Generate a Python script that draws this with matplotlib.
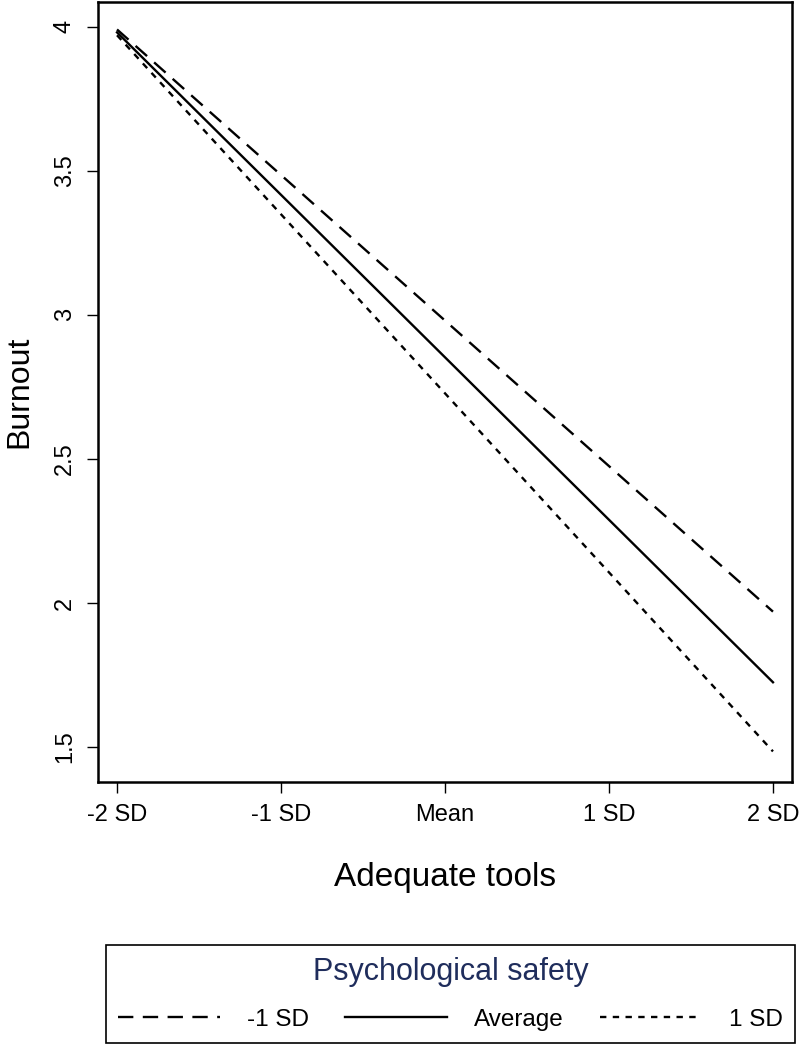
import numpy as np
import matplotlib.pyplot as plt
from matplotlib.lines import Line2D

plt.rcParams['font.family'] = ['Liberation Sans', 'DejaVu Sans']

# x positions (in SD units of Adequate tools) and tick labels
x_pos = [-2, -1, 0, 1, 2]
x_labels = ['-2 SD', '-1 SD', 'Mean', '1 SD', '2 SD']

# predicted burnout at the two ends, per level of Psychological safety
x_ends = [-2, 2]
low_ps = [3.99, 1.97]      # -1 SD
avg_ps = [3.98, 1.725]     # Average
high_ps = [3.97, 1.485]    # 1 SD

series_names = ['-1 SD', 'Average', '1 SD']


def main():
    fig = plt.figure(figsize=(8, 10.45), dpi=100)
    ax = fig.add_axes([0.1225, 0.2517, 0.8675, 0.7463])

    lw = 1.7
    ax.plot(x_ends, low_ps, color='black', lw=lw, linestyle=(0, (6.5, 4)))
    ax.plot(x_ends, avg_ps, color='black', lw=lw, linestyle='-')
    ax.plot(x_ends, high_ps, color='black', lw=lw, linestyle=(0, (2.7, 2.7)))

    ax.set_xlim(-2.116, 2.116)
    ax.set_ylim(1.379, 4.085)
    ax.set_xticks(x_pos)
    ax.set_xticklabels(x_labels)
    ax.set_yticks([1.5, 2, 2.5, 3, 3.5, 4])
    ax.set_yticklabels(['1.5', '2', '2.5', '3', '3.5', '4'], rotation=90, va='center')
    ax.tick_params(axis='both', labelsize=17, length=8, width=1, direction='out', pad=8)

    for s in ax.spines.values():
        s.set_linewidth(1.8)

    ax.set_xlabel('Adequate tools', fontsize=24, labelpad=26)
    ax.set_ylabel('Burnout', fontsize=23, labelpad=14)

    handles = [
        Line2D([], [], color='black', lw=lw, linestyle=(0, (6.5, 4))),
        Line2D([], [], color='black', lw=lw, linestyle='-'),
        Line2D([], [], color='black', lw=lw, linestyle=(0, (2.7, 2.7))),
    ]
    leg = fig.legend(handles, series_names, loc='lower right', bbox_to_anchor=(0.994, 0.002),
                     ncol=3, fontsize=17.5, title='Psychological safety',
                     title_fontsize=22, fancybox=False, edgecolor='black',
                     framealpha=1, handlelength=4.2, handletextpad=1.1,
                     columnspacing=1.5, borderpad=0.5, borderaxespad=0,
                     labelspacing=0.9)
    leg.get_title().set_color('#1f2d5c')
    leg.get_frame().set_linewidth(1.2)

    plt.savefig('out.png', dpi=100)


main()
